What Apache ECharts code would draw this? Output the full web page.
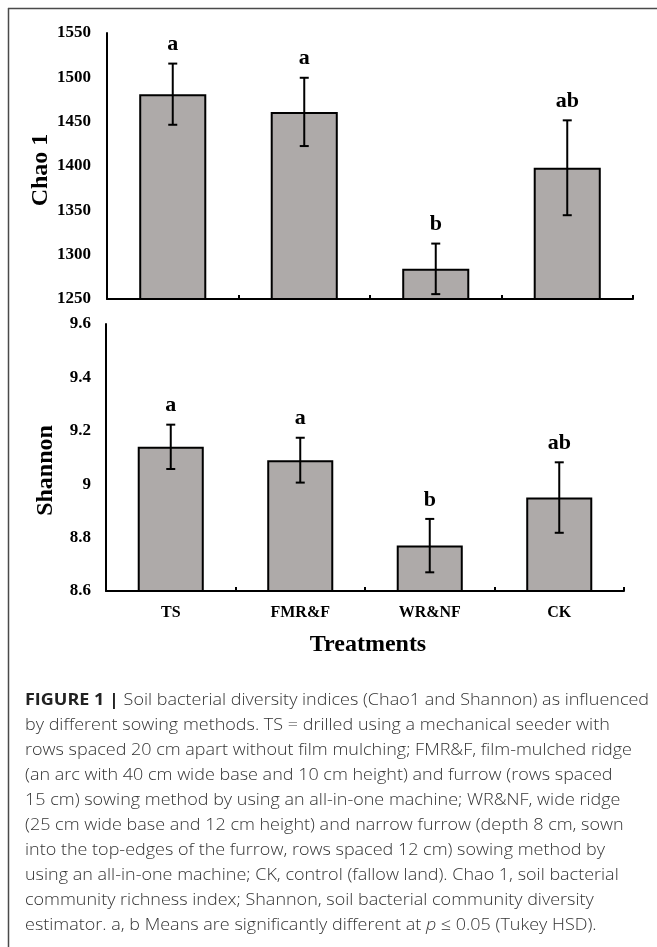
<!DOCTYPE html>
<html>
<head>
<meta charset="utf-8">
<script src="https://cdn.jsdelivr.net/npm/echarts@6/dist/echarts.min.js"></script>
<style>
html,body{margin:0;padding:0;background:#fff;}
#c{width:657px;height:947px;}
</style>
</head>
<body>
<div id="c"></div>
<script>
var categories = ['TS', 'FMR&F', 'WR&NF', 'CK'];
var chaoMean = [1481, 1461, 1284, 1398];
var chaoErr = [34.5, 38.5, 28.5, 53.5];
var chaoLetters = ['a', 'a', 'b', 'ab'];
var shannonMean = [9.14, 9.09, 8.77, 8.95];
var shannonErr = [0.083, 0.084, 0.1, 0.132];
var shannonLetters = ['a', 'a', 'b', 'ab'];
var chaoTicks = {min: 1250, max: 1550, interval: 50};
var shannonTicks = {min: 8.6, max: 9.6, interval: 0.2};

var serif = '"Liberation Serif", "Times New Roman", serif';
var barColor = '#aeaaa9';

function errRender(letters) {
  return function (params, api) {
    var x = api.value(0), m = api.value(1), e = api.value(2);
    var top = api.coord([x, m + e]);
    var bot = api.coord([x, m - e]);
    var cap = 4.5;
    var st = {stroke: '#000', lineWidth: 2};
    return {
      type: 'group',
      children: [
        {type: 'line', shape: {x1: top[0], y1: top[1], x2: bot[0], y2: bot[1]}, style: st},
        {type: 'line', shape: {x1: top[0] - cap, y1: top[1], x2: top[0] + cap, y2: top[1]}, style: st},
        {type: 'line', shape: {x1: bot[0] - cap, y1: bot[1], x2: bot[0] + cap, y2: bot[1]}, style: st},
        {type: 'text', x: top[0], y: top[1] - 8,
          style: {text: letters[params.dataIndex], fill: '#000', font: 'bold 22px ' + serif,
            textAlign: 'center', textVerticalAlign: 'bottom'}}
      ]
    };
  };
}

function errData(means, errs) {
  return means.map(function (m, i) { return [i, m, errs[i]]; });
}

var chart = echarts.init(document.getElementById('c'), null, {renderer: 'canvas'});

var axisLine = {show: true, lineStyle: {color: '#000', width: 2}};
var yLabel = {color: '#000', fontFamily: serif, fontWeight: 'bold', fontSize: 17,
  formatter: function (v) { return String(Math.round(v * 10) / 10); }};
var nameStyle = {color: '#000', fontFamily: serif, fontWeight: 'bold', fontSize: 24};

var captionLines = [
  '{b|FIGURE 1 |}{t| Soil bacterial diversity indices (Chao1 and Shannon) as influenced}',
  '{t|by different sowing methods. TS = drilled using a mechanical seeder with}',
  '{t|rows spaced 20 cm apart without film mulching; FMR&F, film-mulched ridge}',
  '{t|(an arc with 40 cm wide base and 10 cm height) and furrow (rows spaced}',
  '{t|15 cm) sowing method by using an all-in-one machine; WR&NF, wide ridge}',
  '{t|(25 cm wide base and 12 cm height) and narrow furrow (depth 8 cm, sown}',
  '{t|into the top-edges of the furrow, rows spaced 12 cm) sowing method by}',
  '{t|using an all-in-one machine; CK, control (fallow land). Chao 1, soil bacterial}',
  '{t|community richness index; Shannon, soil bacterial community diversity}',
  '{t|estimator. a, b Means are significantly different at }{i|p}{t| ≤ 0.05 (Tukey HSD).}'
];
var capFont = '"Open Sans", Roboto, "Liberation Sans", sans-serif';

var option = {
  backgroundColor: '#fff',
  animation: false,
  grid: [
    {left: 107, top: 33, width: 526, height: 266, containLabel: false},
    {left: 106, top: 324, width: 518, height: 267, containLabel: false}
  ],
  xAxis: [
    {type: 'category', gridIndex: 0, data: categories, boundaryGap: true,
      axisLine: axisLine,
      axisTick: {show: true, inside: true, length: 4, lineStyle: {color: '#000', width: 2}},
      axisLabel: {show: false}, splitLine: {show: false}},
    {type: 'category', gridIndex: 1, data: categories, boundaryGap: true,
      axisLine: axisLine,
      axisTick: {show: true, inside: true, length: 4, lineStyle: {color: '#000', width: 2}},
      axisLabel: {color: '#000', fontFamily: serif, fontWeight: 'bold', fontSize: 16, margin: 14},
      name: 'Treatments', nameLocation: 'middle', nameGap: 42, nameMoveOverlap: false,
      nameTextStyle: Object.assign({padding: [0, 0, 0, 6]}, nameStyle),
      splitLine: {show: false}}
  ],
  yAxis: [
    {type: 'value', gridIndex: 0, min: chaoTicks.min, max: chaoTicks.max, interval: chaoTicks.interval,
      axisLine: axisLine, axisTick: {show: false},
      axisLabel: Object.assign({margin: 16}, yLabel), splitLine: {show: false},
      name: 'Chao 1', nameLocation: 'middle', nameGap: 54, nameRotate: 90, nameMoveOverlap: false,
      nameTextStyle: Object.assign({padding: [0, 8, 0, 0]}, nameStyle)},
    {type: 'value', gridIndex: 1, min: shannonTicks.min, max: shannonTicks.max, interval: shannonTicks.interval,
      axisLine: axisLine, axisTick: {show: false},
      axisLabel: Object.assign({margin: 15}, yLabel), splitLine: {show: false},
      name: 'Shannon', nameLocation: 'middle', nameGap: 48, nameRotate: 90, nameMoveOverlap: false,
      nameTextStyle: Object.assign({padding: [0, 26, 0, 0]}, nameStyle)}
  ],
  series: [
    {type: 'bar', xAxisIndex: 0, yAxisIndex: 0, data: chaoMean, barWidth: '51%',
      itemStyle: {color: barColor, borderColor: '#000', borderWidth: 2}},
    {type: 'custom', xAxisIndex: 0, yAxisIndex: 0, data: errData(chaoMean, chaoErr),
      renderItem: errRender(chaoLetters), z: 5},
    {type: 'bar', xAxisIndex: 1, yAxisIndex: 1, data: shannonMean, barWidth: '51%',
      itemStyle: {color: barColor, borderColor: '#000', borderWidth: 2}},
    {type: 'custom', xAxisIndex: 1, yAxisIndex: 1, data: errData(shannonMean, shannonErr),
      renderItem: errRender(shannonLetters), z: 5}
  ],
  graphic: [
    {type: 'line', shape: {x1: 8, y1: 8.5, x2: 657, y2: 8.5}, style: {stroke: '#4a4a4a', lineWidth: 1.5}, silent: true},
    {type: 'line', shape: {x1: 8.5, y1: 8, x2: 8.5, y2: 947}, style: {stroke: '#4a4a4a', lineWidth: 1.5}, silent: true},
    {type: 'text', x: 25, y: 688, scaleX: 1.09, silent: true,
      style: {
        text: captionLines.join('\n'),
        rich: {
          b: {fontFamily: capFont, fontWeight: 'bold', fontSize: 16.5, fill: '#222', lineHeight: 25},
          t: {fontFamily: capFont, fontWeight: 300, fontSize: 16.5, fill: '#333', lineHeight: 25},
          i: {fontFamily: capFont, fontWeight: 300, fontStyle: 'italic', fontSize: 16.5, fill: '#333', lineHeight: 25}
        }
      }}
  ]
};
chart.setOption(option);
</script>
</body>
</html>
